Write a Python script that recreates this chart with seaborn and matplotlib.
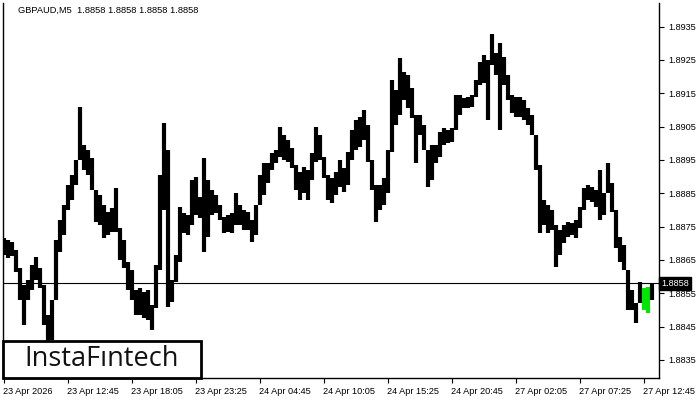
import pandas as pd
import matplotlib.pyplot as plt
import matplotlib.patches as mpatches
import matplotlib.transforms as mtransforms
import seaborn as sns
import numpy as np

sns.set_theme(style="white")
plt.rcParams['font.family'] = ['Liberation Sans', 'DejaVu Sans']

symbol = 'GBPAUD,M5'
last_price = 1.8858

# one sample every 4 bars (M5), high / low of that stretch
bar_index = list(range(0, 652, 4))
highs = [
    1.88716, 1.88710, 1.88704, 1.88680, 1.88626, 1.88575, 1.88590, 1.88635, 1.88659, 1.88626,
    1.88575, 1.88485, 1.88530, 1.88710, 1.88770, 1.88815, 1.88875, 1.88905, 1.88950, 1.89109,
    1.88995, 1.88980, 1.88956, 1.88860, 1.88845, 1.88815, 1.88794, 1.88806, 1.88866, 1.88746,
    1.88710, 1.88644, 1.88620, 1.88560, 1.88566, 1.88554, 1.88560, 1.88515, 1.88635, 1.88905,
    1.89061, 1.88980, 1.88590, 1.88665, 1.88809, 1.88791, 1.88785, 1.88890, 1.88899, 1.88839,
    1.88956, 1.88890, 1.88860, 1.88845, 1.88815, 1.88779, 1.88785, 1.88791, 1.88851, 1.88815,
    1.88800, 1.88794, 1.88770, 1.88815, 1.88905, 1.88941, 1.88941, 1.88971, 1.88980, 1.89049,
    1.89025, 1.89010, 1.88986, 1.88935, 1.88914, 1.88929, 1.88920, 1.88971, 1.89049, 1.89025,
    1.88959, 1.88905, 1.88896, 1.88914, 1.88950, 1.88926, 1.88974, 1.89040, 1.89070, 1.89079,
    1.89100, 1.89055, 1.88950, 1.88875, 1.88875, 1.88896, 1.88980, 1.89190, 1.89160, 1.89256,
    1.89214, 1.89205, 1.89166, 1.89085, 1.89085, 1.89055, 1.88980, 1.88995, 1.88995, 1.89034,
    1.89046, 1.89040, 1.89046, 1.89145, 1.89145, 1.89136, 1.89139, 1.89145, 1.89190, 1.89244,
    1.89265, 1.89250, 1.89328, 1.89271, 1.89301, 1.89259, 1.89205, 1.89145, 1.89139, 1.89139,
    1.89130, 1.89106, 1.89085, 1.89025, 1.88935, 1.88830, 1.88815, 1.88800, 1.88755, 1.88740,
    1.88755, 1.88764, 1.88761, 1.88770, 1.88809, 1.88866, 1.88875, 1.88869, 1.88860, 1.88920,
    1.88851, 1.88941, 1.88881, 1.88800, 1.88719, 1.88695, 1.88620, 1.88560, 1.88521, 1.88584,
    1.88566, 1.88569, 1.88581,
]
lows = [
    1.88665, 1.88656, 1.88662, 1.88614, 1.88530, 1.88455, 1.88530, 1.88560, 1.88590, 1.88566,
    1.88455, 1.88404, 1.88410, 1.88530, 1.88674, 1.88725, 1.88800, 1.88830, 1.88875, 1.88950,
    1.88920, 1.88905, 1.88860, 1.88764, 1.88755, 1.88716, 1.88725, 1.88734, 1.88734, 1.88650,
    1.88626, 1.88560, 1.88530, 1.88485, 1.88485, 1.88476, 1.88470, 1.88440, 1.88506, 1.88620,
    1.88800, 1.88509, 1.88524, 1.88584, 1.88644, 1.88731, 1.88725, 1.88755, 1.88785, 1.88776,
    1.88674, 1.88719, 1.88785, 1.88791, 1.88770, 1.88731, 1.88734, 1.88731, 1.88755, 1.88755,
    1.88740, 1.88740, 1.88704, 1.88725, 1.88815, 1.88845, 1.88881, 1.88920, 1.88941, 1.88959,
    1.88950, 1.88944, 1.88926, 1.88860, 1.88830, 1.88851, 1.88830, 1.88890, 1.88944, 1.88950,
    1.88896, 1.88830, 1.88821, 1.88845, 1.88869, 1.88854, 1.88875, 1.88950, 1.88980, 1.88989,
    1.89010, 1.88944, 1.88860, 1.88764, 1.88800, 1.88815, 1.88851, 1.88974, 1.89055, 1.89085,
    1.89130, 1.89106, 1.89076, 1.88941, 1.89025, 1.88980, 1.88869, 1.88890, 1.88941, 1.88959,
    1.88995, 1.89001, 1.89004, 1.89040, 1.89085, 1.89106, 1.89106, 1.89109, 1.89139, 1.89175,
    1.89181, 1.89070, 1.89235, 1.89205, 1.89040, 1.89175, 1.89130, 1.89091, 1.89079, 1.89079,
    1.89070, 1.89055, 1.89025, 1.88920, 1.88731, 1.88755, 1.88731, 1.88740, 1.88629, 1.88665,
    1.88701, 1.88719, 1.88725, 1.88716, 1.88746, 1.88800, 1.88830, 1.88824, 1.88809, 1.88770,
    1.88785, 1.88851, 1.88794, 1.88686, 1.88644, 1.88620, 1.88500, 1.88500, 1.88461, 1.88521,
    1.88500, 1.88491, 1.88530,
]
# the newest bars are drawn in green
n_green = 2

tick_bars = [0, 64, 128, 192, 256, 320, 384, 448, 512, 576, 640]
tick_labels = ['23 Apr 2026', '23 Apr 12:45', '23 Apr 18:05', '23 Apr 23:25',
               '24 Apr 04:45', '24 Apr 10:05', '24 Apr 15:25', '24 Apr 20:45',
               '27 Apr 02:05', '27 Apr 07:25', '27 Apr 12:45']
price_ticks = [1.8835, 1.8845, 1.8855, 1.8865, 1.8875, 1.8885,
               1.8895, 1.8905, 1.8915, 1.8925, 1.8935]

df = pd.DataFrame({'bar': bar_index, 'high': highs, 'low': lows})
df['color'] = 'black'
df.loc[df.index[-n_green - 1:-1], 'color'] = '#00e600'

fig = plt.figure(figsize=(7, 4), dpi=100)
ax = fig.add_axes([3 / 700, 22 / 400, 656 / 700, 375 / 400])

ax.vlines(df['bar'], df['low'], df['high'], colors=df['color'], linewidth=3.0)
ax.axhline(last_price, color='black', linewidth=0.8)

ax.set_xlim(-1, 655)
ax.set_ylim(1.88296, 1.89421)

ax.yaxis.tick_right()
ax.set_yticks(price_ticks)
ax.set_yticklabels([f'{p:.4f}' for p in price_ticks])
ax.set_xticks(tick_bars)
ax.set_xticklabels(tick_labels)
for lbl in ax.get_xticklabels():
    lbl.set_ha('left')
ax.tick_params(axis='both', direction='out', length=3.5, width=0.8, colors='black',
               labelsize=6.6, pad=2)
ax.tick_params(axis='y', pad=3)
ax.tick_params(axis='x', bottom=True, pad=3)
ax.tick_params(axis='y', right=True)
offset = mtransforms.ScaledTranslation(-1 / 100, 0, fig.dpi_scale_trans)
for lbl in ax.get_xticklabels():
    lbl.set_transform(lbl.get_transform() + offset)

for side in ['left', 'right', 'bottom']:
    ax.spines[side].set_color('black')
    ax.spines[side].set_linewidth(1)
ax.spines['top'].set_visible(False)
ax.grid(False)

ax.text(0.023, 0.981, f'{symbol}  ' + ' '.join([f'{last_price:.4f}'] * 4),
        transform=ax.transAxes, fontsize=6.7, color='black', va='center', ha='left')

ax.text(1.003, last_price, f'{last_price:.4f}', transform=ax.get_yaxis_transform(),
        fontsize=6.6, color='white', va='center', ha='left', clip_on=False,
        bbox=dict(boxstyle='square,pad=0.2', facecolor='black', edgecolor='black'))

logo = mpatches.Rectangle((3 / 700, 22 / 400), 198 / 700, 37 / 400, transform=fig.transFigure,
                          facecolor='white', edgecolor='black', linewidth=2, zorder=5)
fig.patches.append(logo)
fig.text(102 / 700, 41 / 400, 'InstaF\u0131ntech', family=['Open Sans', 'DejaVu Sans'],
         fontsize=19.5, color='#111111', ha='center', va='center', zorder=6)

fig.savefig('out.png', dpi=100)
